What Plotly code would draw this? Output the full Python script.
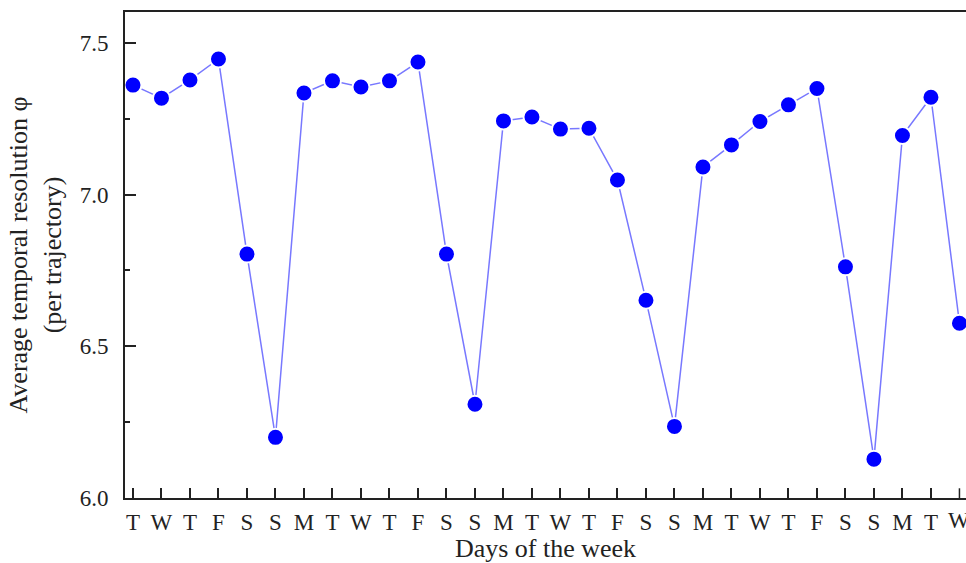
import plotly.graph_objects as go

days = ["T","W","T","F","S","S","M","T","W","T","F","S","S","M","T","W","T","F","S","S",
        "M","T","W","T","F","S","S","M","T","W"]
values = [7.361, 7.318, 7.378, 7.447, 6.804, 6.200, 7.335, 7.375, 7.355, 7.375,
          7.437, 6.804, 6.309, 7.243, 7.256, 7.216, 7.219, 7.048, 6.652, 6.236,
          7.091, 7.164, 7.241, 7.296, 7.350, 6.762, 6.128, 7.195, 7.321, 6.576]
idx = list(range(len(days)))

fig = go.Figure()
fig.add_trace(go.Scatter(
    x=idx, y=values, mode="lines+markers",
    line=dict(color="#7878FF", width=1.5),
    marker=dict(color="#0000FF", size=17, line=dict(color="white", width=2)),
    cliponaxis=True, showlegend=False))

font = "Liberation Serif, Times New Roman, serif"
tickfont = dict(family=font, size=23, color="#222")
fig.update_layout(
    width=966, height=563,
    margin=dict(l=125, r=0, t=12, b=65),
    paper_bgcolor="white", plot_bgcolor="white",
    font=dict(family=font, size=23, color="#222"),
    xaxis=dict(
        range=[-0.28, 29.23], tickmode="array", tickvals=idx[:-1], ticktext=days[:-1],
        tickfont=tickfont,
        ticks="inside", ticklen=10, tickwidth=1.5, tickcolor="#222",
        showline=True, linecolor="#222", linewidth=2, mirror=True,
        showgrid=False, zeroline=False, ticklabelstandoff=2,
        title=dict(text="Days of the week", font=dict(size=26), standoff=3)),
    yaxis=dict(
        range=[6.0, 7.602], tickvals=[6.0, 6.5, 7.0, 7.5], tickformat=".1f",
        tickfont=tickfont,
        ticks="inside", ticklen=11, tickwidth=1.5, tickcolor="#222",
        minor=dict(tickvals=[6.25, 6.75, 7.25], ticks="inside", ticklen=5, tickwidth=1.5, tickcolor="#222"),
        showline=True, linecolor="#222", linewidth=2, mirror=False,
        showgrid=False, zeroline=False, ticklabelstandoff=10,
        title=dict(text="Average temporal resolution φ<br>(per trajectory)", font=dict(size=26), standoff=11)),
)
# last category sits at the clipped right edge: draw its tick mark and label explicitly
fig.add_annotation(x=idx[-1], y=0, xref="x", yref="paper", yanchor="top", yshift=-8,
                   text=days[-1], showarrow=False, font=tickfont)
fig.add_shape(type="line", x0=idx[-1], x1=idx[-1], xref="x", yref="paper", y0=0, y1=0.02,
              line=dict(color="#222", width=1.5))
fig.write_html("out.html")
